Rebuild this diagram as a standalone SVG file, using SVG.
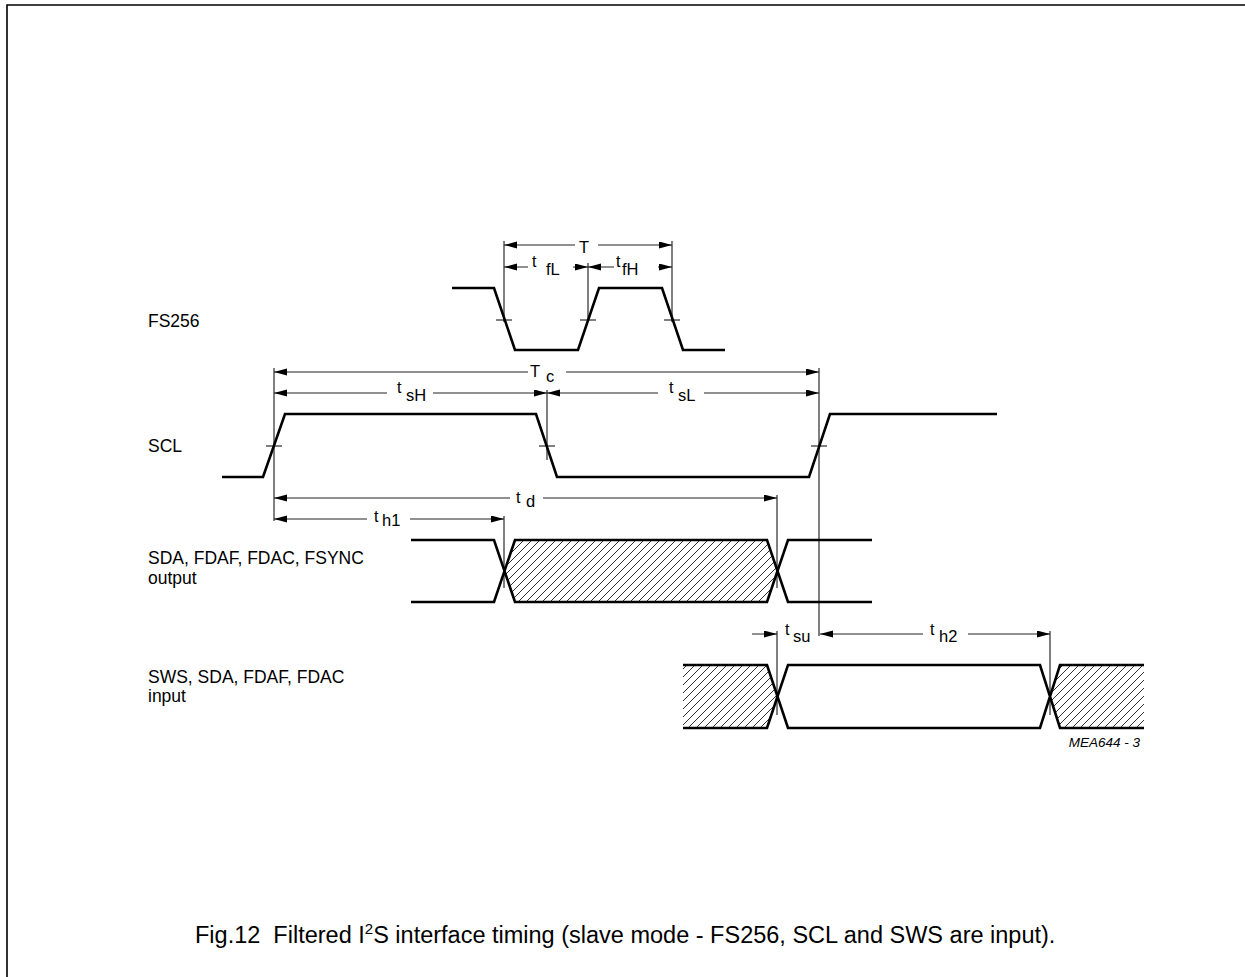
<svg xmlns="http://www.w3.org/2000/svg" width="1245" height="977" viewBox="0 0 1245 977">
<style>
.wave{fill:none;stroke:#000;stroke-width:2.6;stroke-linejoin:miter}
.ref{fill:none;stroke:#000;stroke-width:1}
.dim{fill:none;stroke:#222;stroke-width:1;marker-end:url(#ah)}
.lbl{font-family:"Liberation Sans",Arial,sans-serif;font-size:17.5px;fill:#000}
.t{font-family:"Liberation Sans",Arial,sans-serif;font-size:16px;fill:#000}
.s{font-family:"Liberation Sans",Arial,sans-serif;font-size:16.5px;fill:#000}
.cap{font-family:"Liberation Sans",Arial,sans-serif;font-size:23.5px;fill:#000}
.id{font-family:"Liberation Sans",Arial,sans-serif;font-size:13.5px;font-style:italic;fill:#000}
.hatch{fill:url(#hp);stroke:none}
</style>
<defs>
<marker id="ah" markerUnits="userSpaceOnUse" markerWidth="14" markerHeight="8" refX="13" refY="3.5" orient="auto">
<path d="M0,0 L13,3.5 L0,7 z" fill="#000"/>
</marker>
<pattern id="hp" patternUnits="userSpaceOnUse" width="8" height="8">
<path d="M-2,2 L2,-2 M0,8 L8,0 M6,10 L10,6" stroke="#000" stroke-width="0.8"/>
</pattern>
</defs>
<rect width="1245" height="977" fill="#fff"/>
<g id="frame"><path d="M7,977 V5 H1245" fill="none" stroke="#000" stroke-width="1.6"/></g>

<g id="labels">
<text class="lbl" x="148" y="327">FS256</text>
<text class="lbl" x="148" y="452">SCL</text>
<text class="lbl" x="148" y="564">SDA, FDAF, FDAC, FSYNC</text>
<text class="lbl" x="148" y="583.5">output</text>
<text class="lbl" x="148" y="682.5">SWS, SDA, FDAF, FDAC</text>
<text class="lbl" x="148" y="702">input</text>
</g>

<g id="fs256">
<path class="wave" d="M452,288 H494 L515,350 H578 L599,288 H662 L683,350 H725"/>
</g>
<g id="scl">
<path class="wave" d="M222,477 H263 L285,414 H536 L557,477 H809 L830,414 H997"/>
</g>
<g id="sda-output">
<polygon class="hatch" points="504,571 515,540 767,540 777,571 767,602 515,602"/>
<path class="wave" d="M411,540 H494 L515,602 H767 L788,540 H872 M411,602 H494 L515,540 H767 L788,602 H872"/>
</g>
<g id="sws-input">
<polygon class="hatch" points="683,665 767,665 777,696.5 767,728 683,728"/>
<polygon class="hatch" points="1144,665 1060,665 1050,696.5 1060,728 1144,728"/>
<path class="wave" d="M683,665 H767 L788,728 H1040 L1060,665 H1144 M683,728 H767 L788,665 H1040 L1060,728 H1144"/>
</g>

<g id="connectors">
<path class="ref" d="M504,241 V322 M588,263 V322 M672,241 V322 M274,368 V521 M547,390 V460 M819,368 V636 M504,516 V588 M777,495 V588 M777,631 V715 M1050,631 V715"/>
<path class="ref" d="M496,320 H512 M580,320 H596 M664,320 H680 M266,446 H282 M539,446 H555 M811,446 H827"/>
<path class="dim" d="M575,245 H504"/><path class="dim" d="M598,245 H672"/>
<path class="dim" d="M528,267 H504"/><path class="dim" d="M573,267 H588"/>
<path class="dim" d="M614,267 H588"/><path class="dim" d="M658,267 H672"/>
<path class="dim" d="M528,372 H274"/><path class="dim" d="M566,372 H819"/>
<path class="dim" d="M387,393 H274"/><path class="dim" d="M433,393 H547"/>
<path class="dim" d="M658,393 H547"/><path class="dim" d="M704,393 H819"/>
<path class="dim" d="M510,498 H274"/><path class="dim" d="M543,498 H777"/>
<path class="dim" d="M367,519 H274"/><path class="dim" d="M410,519 H504"/>
<path class="dim" d="M752,634 H777"/>
<path class="dim" d="M923,634 H820"/><path class="dim" d="M968,634 H1050"/>
</g>

<g id="dim-labels">
<text class="s" x="579" y="253" font-size="16">T</text>
<text class="t" x="532" y="267">t</text><text class="s" x="546" y="275">fL</text>
<text class="t" x="616" y="267">t</text><text class="s" x="622" y="275">fH</text>
<text class="s" x="530" y="377">T</text><text class="s" x="546" y="382">c</text>
<text class="t" x="397" y="393">t</text><text class="s" x="406" y="401">sH</text>
<text class="t" x="669" y="393">t</text><text class="s" x="678" y="401">sL</text>
<text class="t" x="516" y="503">t</text><text class="s" x="526" y="507">d</text>
<text class="t" x="374" y="522">t</text><text class="s" x="382" y="526">h1</text>
<text class="t" x="785" y="635">t</text><text class="s" x="793" y="642">su</text>
<text class="t" x="930" y="635">t</text><text class="s" x="939" y="642">h2</text>
</g>

<text class="id" x="1140" y="747" text-anchor="end">MEA644 - 3</text>
<text class="cap" x="195" y="943" xml:space="preserve">Fig.12  Filtered I<tspan font-size="15" dy="-9">2</tspan><tspan dy="9">S interface timing (slave mode - FS256, SCL and SWS are input).</tspan></text>
</svg>
